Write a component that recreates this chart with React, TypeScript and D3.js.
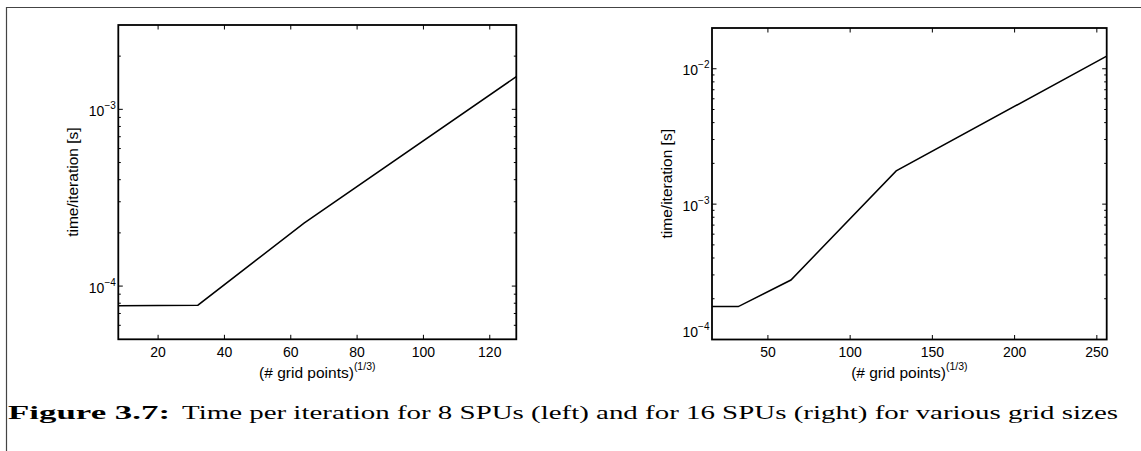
import React from "react";
import * as d3 from "d3";

// Time per iteration vs. cube root of the number of grid points
const gridSizes8 = [8, 32, 64, 128];
const timePerIter8 = [7.74e-5, 7.8e-5, 2.27e-4, 1.53e-3];
const gridSizes16 = [16, 32, 64, 128, 256];
const timePerIter16 = [1.75e-4, 1.75e-4, 2.75e-4, 1.76e-3, 1.24e-2];

const xTicks8 = [20, 40, 60, 80, 100, 120];
const xTicks16 = [50, 100, 150, 200, 250];
const yDecades8 = [-4, -3];
const yDecades16 = [-4, -3, -2];

const xLabel = "(# grid points)";
const xLabelSup = "(1/3)";
const yLabel = "time/iteration [s]";
const captionBold = "Figure 3.7:";
const captionText =
  "Time per iteration for 8 SPUs (left) and for 16 SPUs (right) for various grid sizes";

const SANS = "'Liberation Sans', Arial, Helvetica, sans-serif";
const SERIF = "'Liberation Serif', 'Times New Roman', serif";

type PanelProps = {
  xs: number[];
  ys: number[];
  xDomain: [number, number];
  yDomain: [number, number];
  left: number;
  right: number;
  top: number;
  bottom: number;
  xTicks: number[];
  decades: number[];
  yLabelX: number;
  bottomLabelLift?: boolean;
};

function Panel(p: PanelProps) {
  const x = d3.scaleLinear().domain(p.xDomain).range([p.left, p.right]);
  const y = d3.scaleLog().domain(p.yDomain).range([p.bottom, p.top]);
  const line = d3
    .line<number>()
    .x((_, i) => x(p.xs[i]))
    .y((d) => y(d));

  const majorLen = 4.5;
  const minorLen = 2.5;

  // minor log ticks 2..9 within each decade, inside the domain
  const minors: number[] = [];
  const lo = Math.floor(Math.log10(p.yDomain[0]));
  const hi = Math.ceil(Math.log10(p.yDomain[1]));
  for (let e = lo; e <= hi; e++) {
    for (let m = 2; m <= 9; m++) {
      const v = m * Math.pow(10, e);
      if (v > p.yDomain[0] && v < p.yDomain[1]) minors.push(v);
    }
  }

  const cx = (p.left + p.right) / 2;
  const cy = (p.top + p.bottom) / 2;

  return (
    <g>
      {/* x ticks, bottom and top */}
      {p.xTicks.map((t) => (
        <g key={"xt" + t}>
          <line x1={x(t)} x2={x(t)} y1={p.bottom} y2={p.bottom - majorLen} stroke="#000" strokeWidth={1} />
          <line x1={x(t)} x2={x(t)} y1={p.top} y2={p.top + majorLen} stroke="#000" strokeWidth={1} />
          <text x={x(t)} y={357} textAnchor="middle" fontFamily={SANS} fontSize={14} fill="#000">
            {t}
          </text>
        </g>
      ))}
      {/* y major ticks (decades) */}
      {p.decades.map((e) => {
        const v = Math.pow(10, e);
        const yy = y(v);
        const atBottom = Math.abs(yy - p.bottom) < 1;
        return (
          <g key={"yd" + e}>
            <line x1={p.left} x2={p.left + majorLen} y1={yy} y2={yy} stroke="#000" strokeWidth={1} />
            <line x1={p.right} x2={p.right - majorLen} y1={yy} y2={yy} stroke="#000" strokeWidth={1} />
            <text
              x={p.left - 2.5}
              y={atBottom ? yy - 2.5 : yy + 6.5}
              textAnchor="end"
              fontFamily={SANS}
              fontSize={14}
              fill="#000"
            >
              <tspan>10</tspan>
              <tspan dy={-7} fontSize={10}>{"\u2212" + Math.abs(e)}</tspan>
            </text>
          </g>
        );
      })}
      {/* y minor ticks */}
      {minors.map((v, i) => (
        <g key={"ym" + i}>
          <line x1={p.left} x2={p.left + minorLen} y1={y(v)} y2={y(v)} stroke="#000" strokeWidth={1} />
          <line x1={p.right} x2={p.right - minorLen} y1={y(v)} y2={y(v)} stroke="#000" strokeWidth={1} />
        </g>
      ))}
      {/* data line */}
      <path d={line(p.ys) || ""} fill="none" stroke="#000" strokeWidth={1.5} strokeLinejoin="miter" />
      {/* axes box */}
      <rect
        x={p.left}
        y={p.top}
        width={p.right - p.left}
        height={p.bottom - p.top}
        fill="none"
        stroke="#000"
        strokeWidth={1.8}
      />
      {/* axis labels */}
      <text x={cx} y={377.5} textAnchor="middle" fontFamily={SANS} fontSize={15.5} fill="#000">
        <tspan>{xLabel}</tspan>
        <tspan dy={-7.5} fontSize={10.5}>{xLabelSup}</tspan>
      </text>
      <text
        transform={`translate(${p.yLabelX},${cy}) rotate(-90)`}
        textAnchor="middle"
        fontFamily={SANS}
        fontSize={15.5}
        fill="#000"
      >
        {yLabel}
      </text>
    </g>
  );
}

export default function App() {
  return (
    <svg
      width={1141}
      height={451}
      style={{ position: "absolute", left: 0, top: 0, background: "#fff" }}
    >
      <rect x={0} y={0} width={1141} height={451} fill="#fff" />
      {/* figure frame */}
      <line x1={6} x2={1141} y1={7.5} y2={7.5} stroke="#444" strokeWidth={1.2} />
      <line x1={6.5} x2={6.5} y1={7} y2={451} stroke="#444" strokeWidth={1.2} />

      <Panel
        xs={gridSizes8}
        ys={timePerIter8}
        xDomain={[8, 128]}
        yDomain={[5e-5, 3e-3]}
        left={118.3}
        right={516.3}
        top={25}
        bottom={339.3}
        xTicks={xTicks8}
        decades={yDecades8}
        yLabelX={78}
      />
      <Panel
        xs={gridSizes16}
        ys={timePerIter16}
        xDomain={[16, 256]}
        yDomain={[1e-4, 2e-2]}
        left={712}
        right={1106.7}
        top={28}
        bottom={339.5}
        xTicks={xTicks16}
        decades={yDecades16}
        yLabelX={672}
      />

      {/* caption */}
      <text
        x={8}
        y={419}
        fontFamily={SERIF}
        fontWeight="bold"
        fontSize={18.5}
        fill="#000"
        textLength={162}
        lengthAdjust="spacingAndGlyphs"
      >
        {captionBold}
      </text>
      <text
        x={182}
        y={419}
        fontFamily={SERIF}
        fontSize={18.5}
        fill="#000"
        textLength={936}
        lengthAdjust="spacingAndGlyphs"
      >
        {captionText}
      </text>
    </svg>
  );
}
